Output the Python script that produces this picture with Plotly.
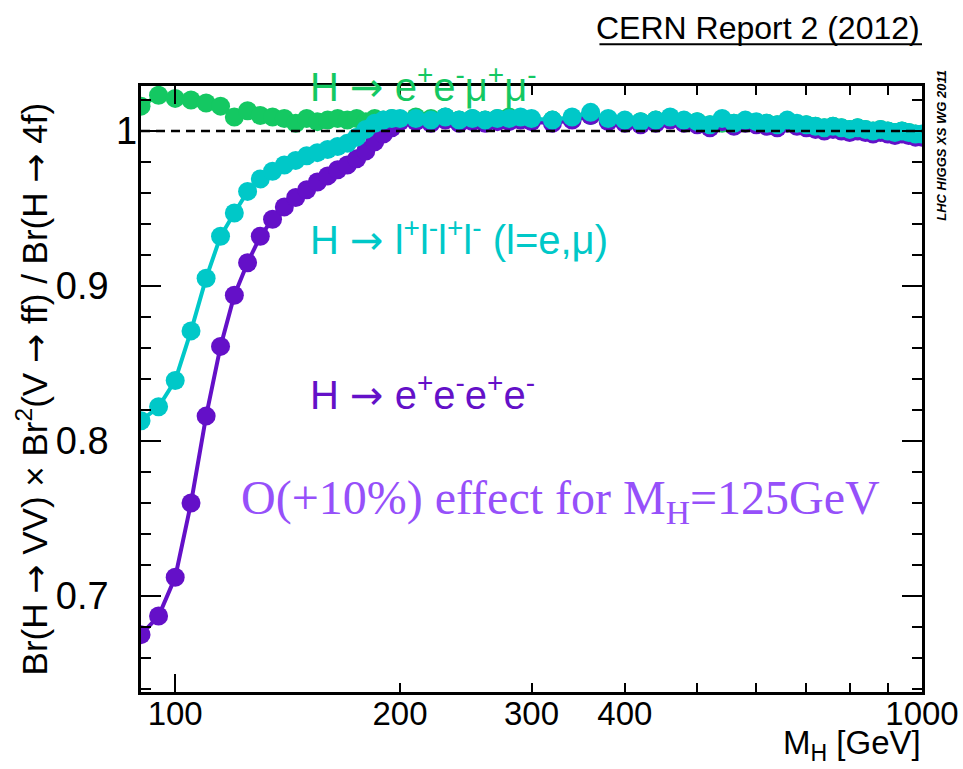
import plotly.graph_objects as go

# ---------------- data ----------------
mass = [90, 95, 100, 105, 110, 115, 120, 125, 130, 135, 140, 145, 150, 155, 160, 165, 170, 175, 180, 185, 190, 195,
        200, 210, 220, 230, 240, 250, 260, 270, 280, 290, 300,
        320, 340, 360, 380, 400, 420, 440, 460, 480, 500, 520, 540, 560, 580, 600, 620, 640, 660, 680,
        700, 720, 740, 760, 780, 800, 820, 840, 860, 880, 900, 920, 940, 960, 980, 1000]

ratio_eemm = [1.016, 1.023, 1.021, 1.020, 1.018, 1.016, 1.009, 1.013, 1.010, 1.009, 1.008, 1.005, 1.008, 1.006,
              1.007, 1.008, 1.007, 1.008, 1.006, 1.008, 1.007, 1.008,
              1.007, 1.009, 1.008, 1.009, 1.007, 1.008, 1.007, 1.008, 1.009, 1.008, 1.007,
              1.007, 1.008, 1.010, 1.007, 1.006, 1.006, 1.007, 1.008, 1.006, 1.006, 1.004, 1.005, 1.005, 1.006,
              1.005, 1.005, 1.004, 1.006, 1.004, 1.004, 1.003, 1.002, 1.003, 1.002, 1.001, 1.002, 1.001, 1.000,
              1.001, 1.000, 0.999, 1.000, 0.999, 0.998, 0.997]

ratio_llll = [0.813, 0.822, 0.839, 0.871, 0.905, 0.932, 0.947, 0.961, 0.969, 0.974, 0.978, 0.981, 0.984, 0.986,
              0.988, 0.990, 0.992, 0.996, 1.001, 1.005, 1.007, 1.008,
              1.008, 1.008, 1.007, 1.009, 1.007, 1.008, 1.007, 1.008, 1.008, 1.009, 1.008,
              1.007, 1.009, 1.012, 1.008, 1.007, 1.006, 1.007, 1.009, 1.007, 1.006, 1.004, 1.008, 1.005, 1.007,
              1.006, 1.005, 1.004, 1.007, 1.005, 1.004, 1.003, 1.002, 1.003, 1.002, 1.001, 1.002, 1.001, 1.000,
              1.001, 1.000, 0.999, 1.000, 0.999, 0.998, 0.998]

ratio_eeee = [0.675, 0.687, 0.712, 0.760, 0.816, 0.861, 0.894, 0.915, 0.932, 0.943, 0.951, 0.957, 0.962, 0.967,
              0.971, 0.975, 0.978, 0.982, 0.987, 0.993, 0.998, 1.002,
              1.006, 1.006, 1.005, 1.007, 1.005, 1.006, 1.005, 1.006, 1.006, 1.007, 1.006,
              1.005, 1.007, 1.010, 1.006, 1.005, 1.004, 1.005, 1.007, 1.005, 1.004, 1.002, 1.006, 1.003, 1.005,
              1.004, 1.003, 1.002, 1.005, 1.003, 1.002, 1.001, 1.000, 1.001, 1.000, 0.999, 1.000, 0.999, 0.998,
              0.999, 0.998, 0.997, 0.998, 0.997, 0.996, 0.996]

x_tickvals = [100, 200, 300, 400, 500, 600, 700, 800, 900, 1000]
x_ticktext = ["100", "200", "300", "400", "", "", "", "", "", "1000"]
y_tickvals = [0.7, 0.8, 0.9, 1.0]
y_ticktext = ["0.7", "0.8", "0.9", ""]
y_label_one = "1"

GREEN = "#14C862"
CYAN = "#00C8C8"
PURPLE = "#6410C8"
NOTE = "#9650FA"

fig = go.Figure()
for y, c in [(ratio_eemm, GREEN), (ratio_eeee, PURPLE), (ratio_llll, CYAN)]:
    fig.add_trace(go.Scatter(x=mass, y=y, mode="lines+markers",
                             line=dict(color=c, width=4),
                             marker=dict(color=c, size=19, line=dict(width=0)),
                             showlegend=False, hoverinfo="skip"))

axis_font = dict(family="Liberation Sans, Arial, sans-serif", size=33, color="black")

fig.update_layout(
    width=963, height=769,
    margin=dict(l=141, r=41, t=86, b=77, autoexpand=False),
    paper_bgcolor="white", plot_bgcolor="white",
    xaxis=dict(type="log", range=[1.9542, 3.0], showgrid=False, zeroline=False,
               showline=True, linecolor="black", linewidth=2.5, mirror="allticks",
               ticks="inside", ticklen=9, tickwidth=2, tickcolor="black",
               tickmode="array", tickvals=x_tickvals, ticktext=x_ticktext, tickangle=0,
               tickfont=axis_font, ticklabelstandoff=-9,
               minor=dict(tickmode="array", tickvals=[100, 1000], ticks="inside",
                          ticklen=18, tickwidth=2, tickcolor="black")),
    yaxis=dict(range=[0.638, 1.029], showgrid=False, zeroline=False,
               showline=True, linecolor="black", linewidth=2.5, mirror="allticks",
               ticks="inside", ticklen=20, tickwidth=2, tickcolor="black",
               tickmode="array", tickvals=y_tickvals, ticktext=y_ticktext,
               tickfont=dict(family="Liberation Sans, Arial, sans-serif", size=38, color="black"),
               ticklabelstandoff=22,
               minor=dict(dtick=0.02, tick0=0.0, ticks="inside", ticklen=10, tickwidth=2,
                          tickcolor="black")),
    font=dict(family="Liberation Sans, Arial, sans-serif", color="black"),
)

# "1" label sits right next to the axis in the original
fig.add_annotation(xref="paper", yref="y", x=-0.002, y=y_tickvals[-1], xanchor="right", yanchor="middle",
                   showarrow=False, text=y_label_one,
                   font=dict(family="Liberation Sans, Arial, sans-serif", size=38, color="black"))

# reference line at 1 (drawn above the markers)
fig.add_shape(type="line", xref="paper", yref="y", x0=0, x1=1, y0=1, y1=1,
              line=dict(color="black", width=2.5, dash="9px,6px"), layer="above")

ARR = '<span style="font-family:DejaVu Sans">→</span>'

# y-axis title
fig.add_annotation(xref="paper", yref="paper", x=-0.139, y=0.5, xanchor="center", yanchor="middle",
                   textangle=-90, showarrow=False,
                   text=f"Br(H {ARR} VV) × Br<sup>2</sup>(V {ARR} ff) / Br(H {ARR} 4f)",
                   font=dict(family="Liberation Sans, Arial, sans-serif", size=35, color="black"))
# x-axis title
fig.add_annotation(xref="paper", yref="paper", x=1.0, y=-0.124, xanchor="right", yanchor="bottom",
                   showarrow=False, text="M<sub>H</sub> [GeV]", borderpad=0,
                   font=dict(family="Liberation Sans, Arial, sans-serif", size=33, color="black"))
# header
fig.add_annotation(xref="paper", yref="paper", x=1.0, y=1.096, xanchor="right", yanchor="middle",
                   showarrow=False, text="CERN Report 2 (2012)",
                   font=dict(family="Liberation Sans Narrow, Liberation Sans, sans-serif", size=32, color="black"))
fig.add_shape(type="line", xref="paper", yref="paper", x0=0.587, x1=1.0, y0=1.069, y1=1.069,
              line=dict(color="black", width=2))
# side label
fig.add_annotation(xref="paper", yref="paper", x=1.0256, y=0.903, xanchor="center", yanchor="middle",
                   textangle=-90, showarrow=False, text="<b><i>LHC HIGGS XS WG 2011</i></b>",
                   font=dict(family="Liberation Sans, Arial, sans-serif", size=13, color="black"))

# channel labels
lab_font = "Liberation Sans Narrow, Liberation Sans, sans-serif"
fig.add_annotation(xref="paper", yref="paper", x=0.214, y=1.003, xanchor="left", yanchor="middle",
                   showarrow=False, text=f"H {ARR} e<sup>+</sup>e<sup>-</sup>μ<sup>+</sup>μ<sup>-</sup>",
                   font=dict(family=lab_font, size=40, color=GREEN))
fig.add_annotation(xref="paper", yref="paper", x=0.214, y=0.75, xanchor="left", yanchor="middle",
                   showarrow=False, text=f"H {ARR} l<sup>+</sup>l<sup>-</sup>l<sup>+</sup>l<sup>-</sup> (l=e,μ)",
                   font=dict(family=lab_font, size=40, color=CYAN))
fig.add_annotation(xref="paper", yref="paper", x=0.214, y=0.494, xanchor="left", yanchor="middle",
                   showarrow=False, text=f"H {ARR} e<sup>+</sup>e<sup>-</sup>e<sup>+</sup>e<sup>-</sup>",
                   font=dict(family=lab_font, size=40, color=PURPLE))
fig.add_annotation(xref="paper", yref="paper", x=0.125, y=0.316, xanchor="left", yanchor="middle",
                   showarrow=False, text="O(+10%) effect for M<sub>H</sub>=125GeV",
                   font=dict(family="Liberation Serif, Times New Roman, serif", size=48, color=NOTE))

fig.write_html("out.html")
